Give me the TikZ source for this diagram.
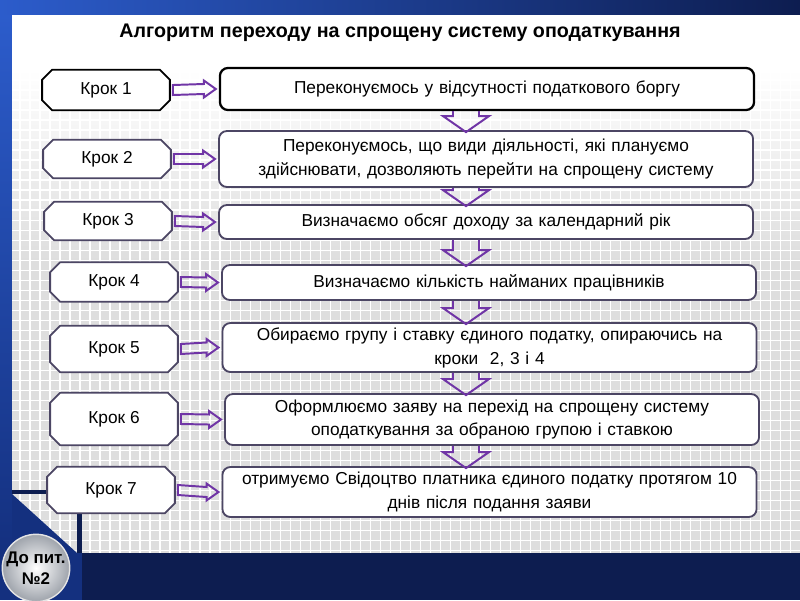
\documentclass[tikz,border=0pt]{standalone}
\usepackage{fontspec}
\setmainfont{Liberation Sans}
\usepackage{tikz}
\usetikzlibrary{positioning,calc,backgrounds}
\definecolor{palNavy}{HTML}{0D1D50}
\definecolor{palBlue}{HTML}{2C5CCB}
\definecolor{palBlueDk}{HTML}{14307F}
\definecolor{palPurple}{HTML}{7035A6}
\definecolor{palEdge}{HTML}{4C4664}
\definecolor{palGrid}{HTML}{DEDEDE}
\definecolor{palSilver}{HTML}{9EA3AB}
\tikzset{
  stepbox/.style={minimum width=3.18cm, inner sep=0pt, font=\fontsize{12.3}{14}\selectfont},
  steppath/.style={draw=palEdge, line width=1.3pt, fill=white, line join=miter},
  actbox/.style={draw=palEdge, line width=1.3pt, fill=white, rounded corners=0.2cm,
                 minimum width=13.35cm, text width=12.9cm, align=center, inner sep=0pt,
                 font=\fontsize{12.3}{17}\selectfont},
  blockarrow/.style={draw=palPurple, line width=1.4pt, line join=miter},
  badge/.style={circle, minimum size=1.5cm, inner sep=0pt, draw=white!80!gray,
                line width=1pt, inner color=white, outer color=palSilver, align=center,
                font=\bfseries\fontsize{12}{15}\selectfont},
}
\begin{document}
\begin{tikzpicture}[x=0.025cm, y=-0.025cm]
\useasboundingbox (0,0) rectangle (800,600);

\begin{pgfonlayer}{background}
%% Background frame
\fill[palNavy] (0,0) rectangle (800,600);
\shade[left color=palBlue, right color=palNavy] (0,0) rectangle (800,15);
\shade[top color=palBlue, bottom color=palBlueDk] (0,15) rectangle (12,555);

%% Panel with grid
\fill[palGrid] (12,15) rectangle (800,553);
\fill[white] (12,15) rectangle (800,70);
\shade[top color=white, bottom color=palGrid] (12,70) rectangle (800,260);
\draw[white, line width=0.8pt, step=0.25cm] (12,15) grid (800,553);
% cut corner at the bottom left
\fill[palNavy] (12,490) rectangle (80,494);
\fill[palNavy] (77,490) rectangle (82,553);
\fill[palBlueDk] (12,494) -- (77,553) -- (12,553) -- cycle;
\fill[palBlueDk] (0,553) rectangle (82,600);
\fill[palNavy] (82,553) rectangle (800,600);
\end{pgfonlayer}

%% Title
\node[font=\bfseries\fontsize{14}{16}\selectfont] (title) at (400,33)
  {Алгоритм переходу на спрощену систему оподаткування};

%% Steps
\node[stepbox, minimum height=1cm]     (s1) at (106,90)  {Крок 1};
\node[stepbox, minimum height=0.95cm]  (s2) at (107,159) {Крок 2};
\node[stepbox, minimum height=0.95cm]  (s3) at (108,221) {Крок 3};
\node[stepbox, minimum height=0.975cm] (s4) at (114,282) {Крок 4};
\node[stepbox, minimum height=1.15cm]  (s5) at (114,349) {Крок 5};
\node[stepbox, minimum height=1.3cm]   (s6) at (114,419) {Крок 6};
\node[stepbox, minimum height=1.15cm]  (s7) at (111,490) {Крок 7};

% cut-corner outlines behind the step labels
\begin{pgfonlayer}{background}
\foreach \i/\col in {1/black, 2/palEdge, 3/palEdge, 4/palEdge, 5/palEdge, 6/palEdge, 7/palEdge} {
  \draw[steppath, draw=\col] ($(s\i.north west)+(10,0)$) -- ($(s\i.north east)+(-10,0)$)
    -- ($(s\i.north east)+(0,10)$) -- ($(s\i.south east)+(0,-10)$)
    -- ($(s\i.south east)+(-10,0)$) -- ($(s\i.south west)+(10,0)$)
    -- ($(s\i.south west)+(0,-10)$) -- ($(s\i.north west)+(0,10)$) -- cycle;
}
\end{pgfonlayer}

%% Actions
\node[actbox, draw=black, line width=1.6pt, minimum height=1.05cm] (b1) at (487,89)
  {Переконуємось у відсутності податкового боргу};
\node[actbox, minimum height=1.4cm] (b2) at (486,159)
  {Переконуємось, що види діяльності, які плануємо\\здійснювати, дозволяють перейти на спрощену систему};
\node[actbox, minimum height=0.85cm] (b3) at (486,222)
  {Визначаємо обсяг доходу за календарний рік};
\node[actbox, minimum height=0.875cm] (b4) at (489,282.5)
  {Визначаємо кількість найманих працівників};
\node[actbox, minimum height=1.225cm] (b5) at (489.5,347.5)
  {Обираємо групу і ставку єдиного податку, опираючись на\\кроки~ 2, 3 і 4};
\node[actbox, minimum height=1.275cm] (b6) at (492,419.5)
  {Оформлюємо заяву на перехід на спрощену систему\\оподаткування за обраною групою і ставкою};
\node[actbox, minimum height=1.25cm] (b7) at (489.5,492)
  {отримуємо Свідоцтво платника єдиного податку протягом 10\\днів після подання заяви};

%% Step -> action arrows
\foreach \i in {1,...,7} {
  \draw[blockarrow] ($(s\i.east)+(3,-5)$) -- ($(b\i.west)+(-15,-5)$) -- ($(b\i.west)+(-15,-8.5)$)
    -- ($(b\i.west)+(-3,0)$) -- ($(b\i.west)+(-15,8.5)$) -- ($(b\i.west)+(-15,5)$)
    -- ($(s\i.east)+(3,5)$) -- cycle;
}

%% Action -> action arrows
\coordinate (ax) at (466,0);
\foreach \i/\j in {1/2, 2/3, 3/4, 4/5, 5/6, 6/7} {
  \draw[blockarrow] (ax |- b\i.south) ++(-13,0)
    -- ($(ax |- b\j.north)+(-13,-14)$) -- ($(ax |- b\j.north)+(-23,-14)$)
    -- ($(ax |- b\j.north)+(0,2)$) -- ($(ax |- b\j.north)+(23,-14)$)
    -- ($(ax |- b\j.north)+(13,-14)$) -- ($(ax |- b\i.south)+(13,0)$);
}

%% Badge
\node[badge] (back) at (36,568) {До пит.\\№2};
\end{tikzpicture}
\end{document}
